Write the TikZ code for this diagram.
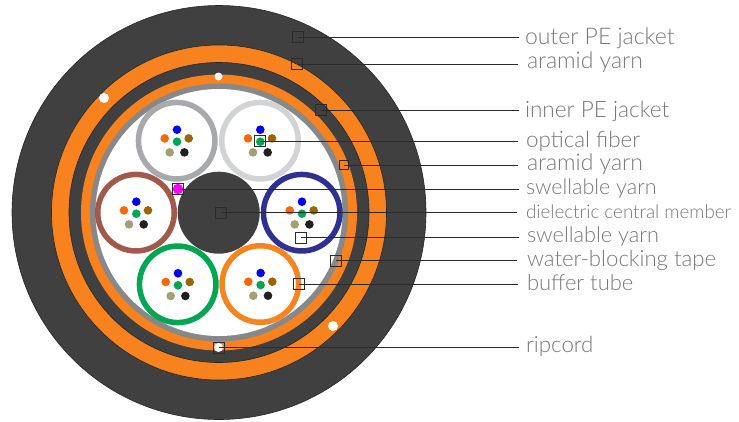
\documentclass[tikz,border=0pt]{standalone}
\usepackage{fontspec}
\setmainfont{Lato}[UprightFont=* Light]
\definecolor{jacket}{HTML}{404040}
\definecolor{aramid}{HTML}{F7821E}
\definecolor{tapegray}{HTML}{87888A}
\definecolor{labelgray}{HTML}{787878}
\definecolor{leader}{HTML}{2B2B2B}
\definecolor{fibblue}{HTML}{0000FF}
\definecolor{fiborange}{HTML}{FF6600}
\definecolor{fibbrown}{HTML}{996600}
\definecolor{fibgreen}{HTML}{00A651}
\definecolor{fibkhaki}{HTML}{A3A172}
\definecolor{fibblack}{HTML}{231F20}
\definecolor{yarnpink}{HTML}{FF00FF}
\definecolor{tubeA}{HTML}{A7A9AC}
\definecolor{tubeB}{HTML}{D1D3D4}
\definecolor{tubeC}{HTML}{A0594A}
\definecolor{tubeD}{HTML}{2E3192}
\definecolor{tubeE}{HTML}{00A651}
\definecolor{tubeF}{HTML}{F7841F}
\tikzset{
  disc/.style={circle,inner sep=0pt,outer sep=0pt,minimum size=#1},
  ringedge/.style={draw=black!85,line width=0.6pt},
  tubering/.style={disc=76.5pt,fill=white,draw=#1,line width=5.5pt},
  fibre/.style={disc=8.6pt,fill=#1},
  cord/.style={disc=#1,fill=white},
  marker/.style={draw=leader,line width=0.7pt,minimum size=11pt,inner sep=0pt,outer sep=0pt,fill=none},
  leaderline/.style={draw=leader,line width=0.7pt},
  lab/.style={anchor=base west,text=labelgray,inner ysep=0pt,inner xsep=#1,outer sep=0pt},
  fs/.style={font=\fontsize{#1}{#1}\selectfont},
}
\newcommand{\fibres}[3]{%
  \node[fibre=fibblue] (#1b) at (#2+0.3,#3-11) {};
  \node[fibre=fiborange] (#1o) at (#2-12,#3-2.3) {};
  \node[fibre=fibbrown] (#1r) at (#2+12,#3-2.3) {};
  \node[fibre=fibgreen] (#1g) at (#2+0.3,#3+1) {};
  \node[fibre=fibkhaki] (#1k) at (#2-7,#3+11.7) {};
  \node[fibre=fibblack] (#1n) at (#2+7.7,#3+11.7) {};
}
\begin{document}
\begin{tikzpicture}[x=1pt,y=-1pt]
\useasboundingbox (0,0) rectangle (739,421);
% sheath
\node[disc=414pt,fill=jacket,ringedge] (outer) at (219,212.5) {};
\node[disc=335pt,fill=aramid,ringedge] (aramidA) at (219,212.5) {};
\node[disc=300pt,fill=jacket,ringedge] (inner) at (219,212.5) {};
\node[disc=276pt,fill=aramid] (aramidB) at (219,212.5) {};
\node[disc=258pt,fill=tapegray] (tape) at (219,212.5) {};
\node[disc=247pt,fill=white] (core) at (219,212.5) {};
% ripcords
\node[cord=10pt] (rcA) at (104,98) {};
\node[cord=8pt] (rcB) at (218.5,76.5) {};
\node[cord=10pt] (rcC) at (333,326) {};
\node[cord=9pt] (rcD) at (218.5,347.5) {};
% central member and swellable yarn
\node[disc=82pt,fill=jacket] (cm) at (218.7,212.7) {};
\node[disc=10.5pt,fill=yarnpink] (swell) at (178,189) {};
% tubes
\node[tubering=tubeA] (tA) at (176.7,140.7) {};
\node[tubering=tubeB] (tB) at (260,140.7) {};
\node[tubering=tubeC] (tC) at (136,212.7) {};
\node[tubering=tubeD] (tD) at (301.7,212.7) {};
\node[tubering=tubeE] (tE) at (177.7,284.3) {};
\node[tubering=tubeF] (tF) at (260.3,284) {};
\fibres{fA}{176.7}{140.7}
\fibres{fB}{260}{140.7}
\fibres{fC}{136}{212.7}
\fibres{fD}{301.7}{212.7}
\fibres{fE}{177.7}{284.3}
\fibres{fF}{260.3}{284}
% markers
\node[marker] (mA) at (298,37) {};
\node[marker] (mB) at (297,64) {};
\node[marker] (mC) at (321,110) {};
\node[marker] (mD) at (260,141) {};
\node[marker,minimum size=9pt] (mE) at (344,165) {};
\node[marker] (mF) at (178,189) {};
\node[marker] (mG) at (221,212.5) {};
\node[marker] (mH) at (301,237.5) {};
\node[marker] (mI) at (336,260.5) {};
\node[marker] (mJ) at (298.5,284) {};
\node[marker] (mK) at (218.5,347.5) {};
% labels
\node[lab=6pt,fs=23] (lA) at (519,44) {outer PE jacket};
\node[lab=9pt,fs=23] (lB) at (518,68.5) {aramid yarn};
\node[lab=6pt,fs=22.6] (lC) at (519,117) {inner PE jacket};
\node[lab=8pt,fs=22.4] (lD) at (518,147) {optical fiber};
\node[lab=9pt,fs=23] (lE) at (518,170) {aramid yarn};
\node[lab=7pt,fs=21.5] (lF) at (519,194) {swellable yarn};
\node[lab=9pt,fs=18.8] (lG) at (517,218) {dielectric central member};
\node[lab=8pt,fs=21.7] (lH) at (519,242.5) {swellable yarn};
\node[lab=10pt,fs=22.2] (lI) at (517,266.5) {water-blocking tape};
\node[lab=9pt,fs=22] (lJ) at (518,290) {buffer tube};
\node[lab=7pt,fs=22.3] (lK) at (519,352) {ripcord};
% leaders
\foreach \m/\l in {mA/lA,mB/lB,mC/lC,mD/lD,mE/lE,mF/lF,mG/lG,mH/lH,mI/lI,mJ/lJ,mK/lK}
  \draw[leaderline] (\m.center) -- (\m.center -| \l.west);
\end{tikzpicture}
\end{document}
